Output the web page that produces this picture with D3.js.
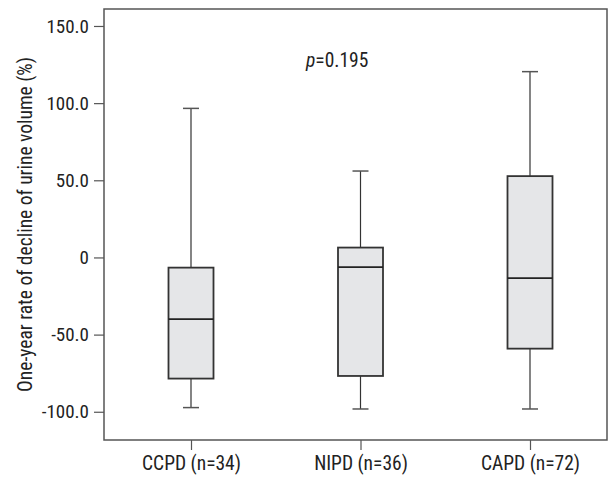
<!DOCTYPE html>
<html>
<head>
<meta charset="utf-8">
<script src="https://cdn.jsdelivr.net/npm/d3@7"></script>
<style>
  body { margin: 0; background: #fff; }
  text { font-family: "Liberation Sans Narrow", "Arial Narrow", "Roboto Condensed", sans-serif; fill: #222; }
</style>
</head>
<body>
<svg id="chart" width="610" height="479"></svg>
<script>
// DATA
const groups = ["CCPD (n=34)", "NIPD (n=36)", "CAPD (n=72)"];
const whiskerLow = [-97.3, -98.2, -98.2];
const q1 = [-78.5, -76.8, -59.1];
const median = [-40.0, -6.3, -13.4];
const q3 = [-6.6, 6.4, 52.7];
const whiskerHigh = [96.6, 56.0, 120.4];
const yTicks = [-100, -50, 0, 50, 100, 150];
const pLabel = "0.195";

const svg = d3.select("#chart");
const frame = { left: 104, right: 607, top: 9, bottom: 440 };

const y = d3.scaleLinear().domain([-118.3, 161]).range([frame.bottom, frame.top]);
const x = d3.scalePoint().domain(groups).range([191, 530]);

const boxes = groups.map((g, i) => ({
  g, lo: whiskerLow[i], q1: q1[i], med: median[i], q3: q3[i], hi: whiskerHigh[i]
}));

// axes
const gy = svg.append("g")
  .attr("transform", `translate(${frame.left},0)`)
  .call(d3.axisLeft(y)
    .tickValues(yTicks)
    .tickSize(10)
    .tickPadding(5)
    .tickFormat(d => d === 0 ? "0" : d.toFixed(1)));
gy.select(".domain").remove();
gy.selectAll(".tick line").attr("stroke", "#555").attr("stroke-width", 1.2);
gy.selectAll(".tick text").attr("font-size", 19).attr("fill", "#222")
  .style("font-family", null);

const gx = svg.append("g")
  .attr("transform", `translate(0,${frame.bottom})`)
  .call(d3.axisBottom(x).tickSize(10).tickPadding(6));
gx.select(".domain").remove();
gx.selectAll(".tick line").attr("stroke", "#555").attr("stroke-width", 1.2);
gx.selectAll(".tick text").attr("font-size", 19.5).attr("fill", "#222")
  .attr("dy", "0.71em").style("font-family", null);
gy.attr("font-family", null);
gx.attr("font-family", null);

// frame
svg.append("rect")
  .attr("x", frame.left).attr("y", frame.top)
  .attr("width", frame.right - frame.left)
  .attr("height", frame.bottom - frame.top)
  .attr("fill", "none").attr("stroke", "#555").attr("stroke-width", 1.5);

// boxes
const boxW = 45, capW = 16;
const b = svg.append("g").selectAll("g").data(boxes).join("g");

b.append("line")
  .attr("x1", d => x(d.g)).attr("x2", d => x(d.g))
  .attr("y1", d => y(d.hi)).attr("y2", d => y(d.q3))
  .attr("stroke", "#333").attr("stroke-width", 1.2);
b.append("line")
  .attr("x1", d => x(d.g)).attr("x2", d => x(d.g))
  .attr("y1", d => y(d.q1)).attr("y2", d => y(d.lo))
  .attr("stroke", "#333").attr("stroke-width", 1.2);
b.selectAll(".cap").data(d => [d.hi, d.lo].map(v => ({ g: d.g, v })))
  .join("line").attr("class", "cap")
  .attr("x1", d => x(d.g) - capW / 2).attr("x2", d => x(d.g) + capW / 2)
  .attr("y1", d => y(d.v)).attr("y2", d => y(d.v))
  .attr("stroke", "#555").attr("stroke-width", 1.5);

b.append("rect")
  .attr("x", d => x(d.g) - boxW / 2).attr("width", boxW)
  .attr("y", d => y(d.q3)).attr("height", d => y(d.q1) - y(d.q3))
  .attr("fill", "#e5e6e8").attr("stroke", "#333").attr("stroke-width", 1.8);
b.append("line")
  .attr("x1", d => x(d.g) - boxW / 2).attr("x2", d => x(d.g) + boxW / 2)
  .attr("y1", d => y(d.med)).attr("y2", d => y(d.med))
  .attr("stroke", "#222").attr("stroke-width", 1.6);

// p value
const pt = svg.append("text")
  .attr("x", 306).attr("y", 66.5)
  .attr("font-size", 19.5);
pt.append("tspan").attr("font-style", "italic").text("p");
pt.append("tspan").text("=" + pLabel);

// y title
svg.append("text")
  .attr("transform", `translate(32,${(frame.top + frame.bottom) / 2}) rotate(-90)`)
  .attr("text-anchor", "middle")
  .attr("font-size", 19.5)
  .text("One-year rate of decline of urine volume (%)");
</script>
</body>
</html>
